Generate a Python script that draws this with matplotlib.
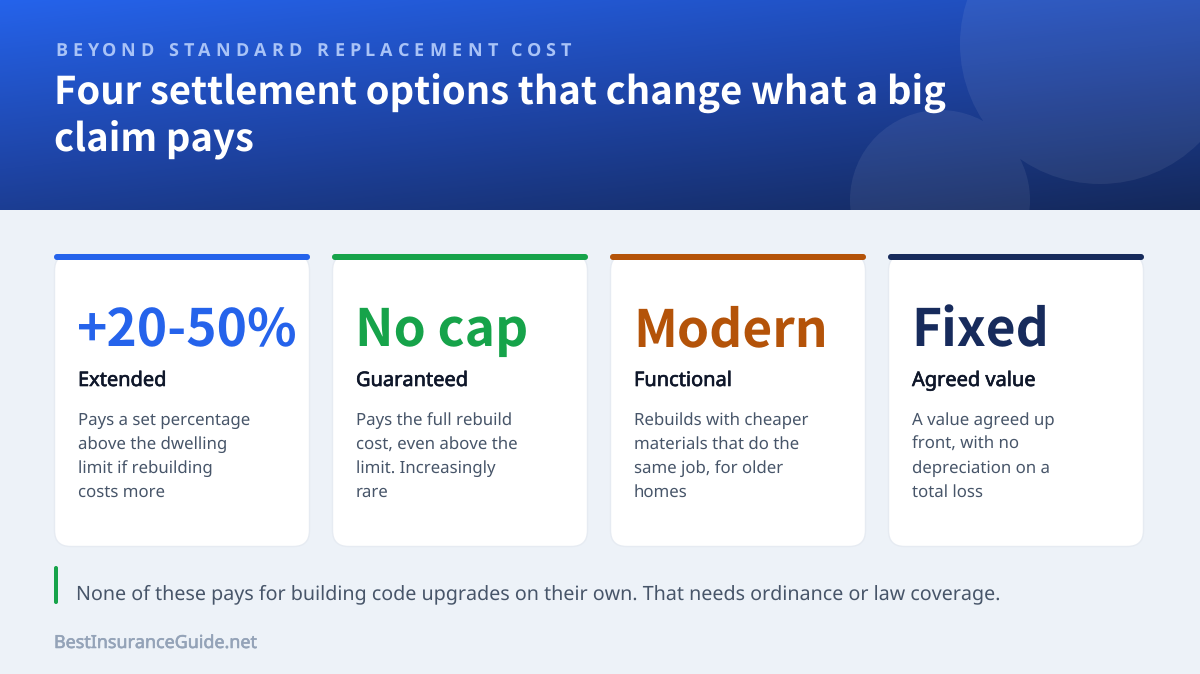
import numpy as np
import matplotlib
matplotlib.use("Agg")
import matplotlib.pyplot as plt
import matplotlib.patheffects as pe
from matplotlib.patches import FancyBboxPatch, PathPatch, Rectangle
from matplotlib.path import Path

plt.rcParams["font.family"] = ["Noto Sans", "DejaVu Sans"]
plt.rcParams["text.hinting"] = "no_hinting"

eyebrow = "BEYOND STANDARD REPLACEMENT COST"
title_lines = ["Four settlement options that change what a big", "claim pays"]
big_labels = ["+20-50%", "No cap", "Modern", "Fixed"]
names = ["Extended", "Guaranteed", "Functional", "Agreed value"]
descriptions = [
    ["Pays a set percentage", "above the dwelling", "limit if rebuilding", "costs more"],
    ["Pays the full rebuild", "cost, even above the", "limit. Increasingly", "rare"],
    ["Rebuilds with cheaper", "materials that do the", "same job, for older", "homes"],
    ["A value agreed up", "front, with no", "depreciation on a", "total loss"],
]
colors = ["#2563eb", "#16a34a", "#b45309", "#172b5c"]
note = "None of these pays for building code upgrades on their own. That needs ordinance or law coverage."
brand = "BestInsuranceGuide.net"
BOLD = "Noto Sans CJK SC"  # Noto Sans here only has its regular weight


def px(size):
    return size * 72 / 100


def thicken(color, width):
    # fake a medium weight on the regular Noto Sans
    return [pe.withStroke(linewidth=width, foreground=color)]


def spaced_text(ax, x, y, text, size, spacing, **kw):
    # matplotlib has no letter spacing, so place each glyph by hand
    renderer = ax.figure.canvas.get_renderer()
    for i, ch in enumerate(text):
        ax.text(x, y, ch, fontsize=px(size), va="baseline", **kw)
        probe = ax.text(0, 0, "." + ch + ".", fontsize=px(size), **kw)
        dots = ax.text(0, 0, "..", fontsize=px(size), **kw)
        x += probe.get_window_extent(renderer).width - dots.get_window_extent(renderer).width + spacing
        probe.remove()
        dots.remove()


fig = plt.figure(figsize=(12, 6.74), dpi=100, facecolor="#edf2f8")
ax = fig.add_axes([0, 0, 1, 1])
ax.axis("off")

# header gradient
gx, gy = np.meshgrid(np.linspace(0, 1, 1200), np.linspace(0, 1, 210))
t = (0.38 * gx + 0.62 * gy)[..., None]
start_col = np.array([37, 99, 235]) / 255
mid_col = np.array([30, 68, 165]) / 255
end_col = np.array([20, 40, 90]) / 255
grad = np.where(t < 0.5, start_col + (mid_col - start_col) * t / 0.5,
                mid_col + (end_col - mid_col) * (t - 0.5) / 0.5)
ax.imshow(grad, extent=[0, 1200, 210, 0], aspect="auto", zorder=1)
ax.set_xlim(0, 1200)
ax.set_ylim(674, 0)

# the two circles are filled as one shape, so the overlap is not doubled
rings = [Path.circle((1100, 44), 140), Path.circle((940, 200), 90)]
blobs = PathPatch(Path.make_compound_path(*rings), facecolor="white", alpha=0.07, edgecolor="none", zorder=2)
ax.add_patch(blobs)
blobs.set_clip_path(Rectangle((0, 0), 1200, 210, transform=ax.transData))

spaced_text(ax, 55.5, 56, eyebrow, 18, 5.45, color="#a9c3f7", family="Open Sans", fontweight="bold", zorder=3)
ax.text(54.5, 105, title_lines[0], fontsize=px(38.2), color="white", family=BOLD, fontweight="bold", va="baseline", zorder=3)
ax.text(54.5, 151, title_lines[1], fontsize=px(38.2), color="white", family=BOLD, fontweight="bold", va="baseline", zorder=3)

for i in range(4):
    x = 54 + i * 278
    card = FancyBboxPatch((x + 0.5, 254.5), 255, 292, boxstyle="round,pad=0,rounding_size=16",
                          facecolor="white", edgecolor="#e6ebf2", linewidth=1, zorder=2)
    ax.add_patch(card)
    bar = FancyBboxPatch((x, 254), 256, 6, boxstyle="round,pad=0,rounding_size=3",
                         facecolor=colors[i], edgecolor="none", zorder=3)
    ax.add_patch(bar)
    ax.text(x + 23, 346, big_labels[i], fontsize=px(51.5), color=colors[i], family=BOLD, fontweight="bold", va="baseline", zorder=3)
    ax.text(x + 24, 386, names[i], fontsize=px(20), color="#0f172a", va="baseline", zorder=3,
            path_effects=thicken("#0f172a", 0.45))
    for j, line in enumerate(descriptions[i]):
        ax.text(x + 24, 424.5 + j * 24.2, line, fontsize=px(16.8), color="#475569", va="baseline", zorder=3)

accent = FancyBboxPatch((54, 566), 4, 38, boxstyle="round,pad=0,rounding_size=2",
                        facecolor="#16a34a", edgecolor="none", zorder=3)
ax.add_patch(accent)
ax.text(76, 599.5, note, fontsize=px(19.7), color="#475569", va="baseline", zorder=3)
ax.text(54, 648, brand, fontsize=px(17.9), color="#94a3b8", va="baseline", zorder=3,
        path_effects=thicken("#94a3b8", 0.4))

fig.savefig("out.png", dpi=100, facecolor=fig.get_facecolor())
